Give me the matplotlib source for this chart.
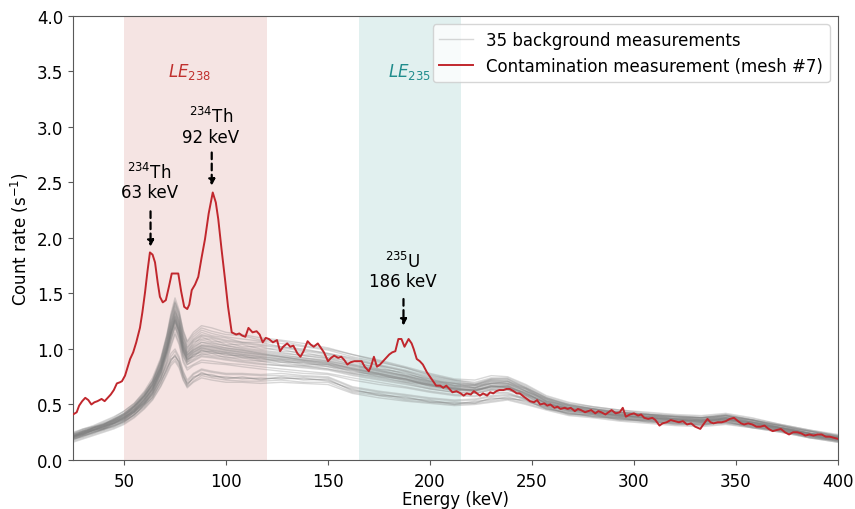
import matplotlib
matplotlib.use("Agg")
import matplotlib.pyplot as plt

# ---------------- data ----------------
bg_energy = [25, 30, 35, 40, 45, 50, 55, 60, 64, 68, 71, 73, 75, 77, 79, 81, 84, 88, 93, 100,
             108, 117, 127, 138, 150, 162, 175, 188, 200, 212, 222, 230, 238, 247, 257, 268, 280,
             293, 307, 320, 333, 345, 358, 372, 386, 400]

bg_upper = [
    [.24,.28,.30,.34,.38,.44,.51,.62,.74,.92,1.13,1.32,1.46,1.35,1.16,1.06,1.13,1.19,1.16,1.13,1.12,1.08,1.07,1.03,1.00,.95,.90,.84,.78,.73,.72,.76,.75,.68,.58,.52,.48,.45,.43,.41,.40,.42,.38,.32,.27,.23],
    [.23,.26,.29,.33,.36,.42,.49,.60,.71,.89,1.10,1.27,1.41,1.30,1.12,1.02,1.09,1.15,1.12,1.10,1.06,1.06,1.02,1.00,.96,.92,.86,.81,.75,.71,.68,.73,.73,.65,.56,.50,.47,.44,.41,.40,.38,.41,.36,.31,.26,.22],
    [.22,.24,.29,.31,.34,.41,.46,.58,.67,.86,1.04,1.23,1.34,1.26,1.07,.99,1.04,1.11,1.07,1.06,1.02,1.02,.98,.97,.92,.89,.82,.79,.71,.69,.65,.71,.69,.64,.53,.49,.44,.43,.39,.39,.36,.40,.34,.31,.24,.21],
    [.21,.24,.27,.30,.33,.38,.45,.55,.65,.82,1.01,1.17,1.30,1.20,1.04,.94,1.01,1.06,1.04,1.01,.99,.97,.95,.92,.89,.85,.80,.75,.69,.65,.63,.67,.67,.60,.52,.46,.43,.40,.38,.37,.35,.37,.34,.29,.24,.20],
    [.25,.28,.31,.35,.39,.44,.51,.61,.71,.88,1.08,1.25,1.38,1.27,1.10,1.00,1.07,1.12,1.10,1.07,1.05,1.03,1.01,.98,.95,.90,.85,.80,.73,.69,.67,.72,.71,.64,.55,.49,.46,.43,.41,.39,.38,.40,.36,.31,.26,.21],
    [.19,.22,.25,.28,.32,.36,.43,.53,.64,.82,1.03,1.19,1.32,1.23,1.06,.96,1.03,1.08,1.06,1.03,1.01,.99,.97,.94,.91,.86,.81,.76,.71,.67,.65,.69,.68,.62,.53,.47,.44,.41,.39,.37,.36,.38,.34,.29,.24,.20],
    [.23,.27,.30,.32,.37,.42,.50,.60,.72,.90,1.11,1.29,1.43,1.32,1.14,1.04,1.11,1.17,1.14,1.11,1.09,1.07,1.05,1.02,.99,.93,.88,.83,.76,.72,.70,.74,.74,.67,.57,.51,.48,.45,.42,.40,.39,.41,.37,.32,.27,.22],
    [.20,.23,.27,.29,.33,.38,.44,.54,.64,.80,.99,1.15,1.27,1.18,1.02,.92,.99,1.03,1.02,.99,.97,.95,.93,.90,.87,.83,.78,.73,.68,.64,.62,.66,.66,.59,.51,.45,.42,.40,.38,.36,.35,.37,.33,.28,.24,.20],
    [.21,.26,.27,.32,.35,.39,.48,.56,.69,.84,1.06,1.21,1.36,1.24,1.09,.97,1.06,1.09,1.09,1.04,1.04,1.00,1.00,.95,.94,.87,.84,.77,.73,.67,.67,.69,.71,.62,.55,.47,.46,.41,.41,.37,.38,.38,.36,.29,.26,.21],
    [.22,.25,.28,.31,.35,.40,.48,.59,.71,.90,1.12,1.30,1.42,1.33,1.17,1.07,1.15,1.21,1.19,1.15,1.13,1.10,1.08,1.05,1.01,.95,.89,.83,.77,.72,.69,.73,.73,.66,.56,.50,.46,.43,.41,.39,.38,.40,.36,.31,.26,.21],
    [.23,.26,.29,.32,.36,.41,.48,.58,.68,.83,1.00,1.14,1.26,1.16,1.00,.91,.97,1.01,.99,.97,.95,.93,.91,.89,.86,.82,.77,.73,.68,.64,.62,.66,.65,.59,.51,.46,.43,.40,.38,.36,.35,.37,.33,.29,.24,.20],
    [.22,.25,.29,.32,.36,.41,.48,.58,.70,.87,1.08,1.25,1.39,1.29,1.11,1.01,1.08,1.13,1.11,1.08,1.06,1.04,1.02,.99,.96,.91,.85,.80,.74,.70,.68,.72,.72,.65,.56,.49,.46,.43,.41,.39,.38,.40,.36,.31,.26,.22],
]

bg_middle = [
    [.21,.24,.27,.30,.34,.38,.45,.54,.64,.80,.98,1.13,1.25,1.15,.98,.90,.94,.98,.97,.95,.93,.91,.89,.87,.85,.80,.76,.72,.67,.64,.63,.66,.66,.60,.51,.46,.43,.40,.38,.36,.35,.37,.33,.28,.23,.19],
    [.22,.25,.29,.31,.36,.40,.47,.57,.67,.84,1.03,1.19,1.31,1.21,1.03,.95,.99,1.03,1.02,1.00,.98,.96,.93,.91,.89,.84,.80,.76,.70,.67,.66,.69,.69,.63,.54,.48,.45,.42,.40,.38,.37,.39,.35,.29,.24,.20],
    [.20,.23,.26,.28,.32,.36,.43,.51,.61,.76,.93,1.07,1.19,1.09,.93,.86,.89,.93,.92,.90,.88,.86,.85,.83,.81,.76,.72,.68,.64,.61,.60,.63,.63,.57,.48,.44,.41,.38,.36,.34,.33,.35,.31,.27,.22,.18],
    [.20,.25,.26,.31,.33,.39,.44,.55,.63,.81,.97,1.14,1.24,1.16,.97,.91,.93,.99,.96,.96,.92,.92,.88,.88,.84,.81,.75,.73,.66,.65,.62,.67,.65,.61,.50,.47,.42,.41,.37,.37,.34,.38,.32,.29,.22,.19],
    [.23,.26,.29,.32,.37,.41,.49,.58,.69,.86,1.06,1.22,1.35,1.24,1.06,.97,1.02,1.06,1.05,1.03,1.00,.98,.96,.94,.92,.86,.82,.78,.72,.69,.68,.71,.71,.65,.55,.50,.46,.43,.41,.39,.38,.40,.36,.30,.25,.21],
    [.19,.22,.25,.28,.31,.35,.41,.50,.59,.74,.90,1.04,1.15,1.06,.90,.83,.86,.90,.89,.87,.86,.84,.82,.80,.78,.74,.70,.66,.62,.59,.58,.61,.61,.55,.47,.42,.40,.37,.35,.33,.32,.34,.30,.26,.21,.17],
    [.21,.25,.28,.30,.35,.39,.46,.55,.66,.82,1.00,1.15,1.28,1.17,1.00,.92,.96,1.00,.99,.97,.95,.93,.91,.89,.87,.82,.78,.73,.68,.65,.64,.67,.67,.61,.52,.47,.44,.41,.39,.37,.36,.38,.34,.29,.23,.19],
    [.22,.23,.27,.29,.34,.37,.45,.52,.63,.78,.97,1.10,1.23,1.12,.97,.88,.93,.95,.96,.92,.92,.89,.88,.85,.84,.78,.75,.70,.67,.62,.63,.64,.65,.58,.50,.45,.42,.39,.37,.35,.34,.36,.32,.28,.22,.19],
    [.24,.27,.30,.33,.37,.42,.49,.58,.68,.83,.99,1.14,1.26,1.16,.99,.90,.95,.99,.98,.96,.94,.92,.90,.88,.86,.81,.77,.72,.67,.64,.63,.66,.66,.60,.51,.46,.43,.40,.38,.36,.35,.37,.33,.28,.23,.19],
    [.18,.21,.24,.27,.30,.34,.41,.50,.61,.79,.99,1.16,1.29,1.19,1.02,.94,.98,1.02,1.01,.99,.97,.95,.93,.90,.88,.83,.79,.75,.70,.66,.65,.69,.69,.62,.53,.48,.45,.42,.40,.37,.36,.38,.34,.29,.24,.20],
    [.21,.24,.28,.30,.35,.38,.46,.54,.65,.79,.99,1.12,1.26,1.14,.99,.89,.95,.97,.98,.94,.94,.90,.90,.86,.86,.79,.77,.71,.68,.63,.64,.65,.67,.59,.52,.45,.44,.39,.39,.35,.36,.36,.34,.27,.24,.19],
    [.20,.23,.26,.29,.33,.36,.43,.52,.61,.77,.94,1.08,1.20,1.10,.94,.86,.90,.94,.93,.91,.89,.87,.85,.84,.82,.77,.73,.69,.64,.61,.60,.63,.63,.58,.49,.44,.41,.38,.36,.35,.34,.36,.32,.27,.22,.18],
    [.22,.26,.29,.32,.36,.40,.48,.57,.68,.85,1.04,1.20,1.33,1.22,1.04,.95,1.00,1.04,1.03,1.01,.99,.96,.94,.92,.90,.85,.81,.76,.71,.68,.67,.70,.70,.64,.54,.49,.46,.42,.40,.38,.37,.39,.35,.30,.24,.20],
    [.21,.24,.27,.30,.33,.37,.43,.51,.59,.73,.88,1.02,1.13,1.04,.88,.81,.85,.88,.87,.86,.84,.82,.80,.78,.77,.72,.68,.65,.61,.58,.57,.60,.60,.54,.46,.42,.39,.37,.35,.33,.32,.34,.30,.26,.21,.17],
    [.21,.25,.28,.31,.35,.39,.46,.56,.66,.82,1.01,1.16,1.29,1.18,1.01,.93,.97,1.01,1.00,.98,.96,.94,.92,.90,.88,.82,.78,.74,.69,.66,.65,.68,.68,.62,.53,.47,.44,.41,.39,.37,.36,.38,.34,.29,.24,.20],
    [.20,.23,.27,.28,.33,.37,.44,.53,.62,.78,.95,1.10,1.21,1.12,.95,.88,.91,.96,.94,.93,.90,.89,.86,.85,.82,.78,.74,.70,.65,.63,.61,.64,.64,.58,.49,.45,.42,.39,.37,.35,.34,.36,.32,.27,.22,.18],
]

bg_lower = [
    [.19,.22,.25,.28,.31,.35,.41,.49,.57,.70,.82,.90,.94,.88,.76,.68,.74,.78,.76,.74,.74,.73,.74,.73,.72,.63,.59,.56,.53,.51,.52,.55,.56,.53,.47,.42,.40,.37,.35,.33,.32,.34,.30,.26,.21,.17],
    [.17,.20,.23,.26,.29,.33,.39,.47,.55,.67,.79,.87,.91,.85,.73,.66,.71,.76,.74,.72,.71,.71,.72,.70,.70,.61,.58,.54,.52,.50,.51,.53,.55,.51,.46,.41,.39,.36,.34,.32,.31,.33,.29,.25,.20,.16],
    [.20,.23,.27,.29,.33,.37,.43,.51,.59,.73,.85,.93,.98,.91,.79,.70,.77,.81,.79,.77,.77,.76,.76,.75,.74,.65,.61,.58,.55,.53,.54,.57,.58,.55,.48,.43,.41,.38,.36,.34,.33,.35,.31,.27,.22,.18],
    [.18,.22,.24,.28,.30,.35,.40,.50,.56,.71,.81,.91,.93,.89,.75,.69,.73,.79,.75,.75,.73,.74,.73,.74,.71,.64,.58,.57,.52,.52,.51,.56,.55,.54,.46,.43,.39,.38,.34,.34,.31,.35,.29,.27,.20,.18],
    [.16,.19,.22,.25,.28,.32,.38,.46,.54,.66,.77,.85,.89,.83,.72,.65,.70,.74,.72,.70,.70,.69,.70,.69,.68,.60,.56,.53,.51,.49,.50,.52,.54,.50,.45,.40,.38,.35,.33,.31,.30,.32,.29,.25,.20,.16],
    [.21,.24,.27,.30,.34,.38,.44,.52,.60,.74,.87,.96,1.00,.93,.80,.72,.78,.82,.80,.78,.78,.77,.78,.76,.75,.66,.62,.59,.56,.54,.55,.58,.59,.56,.49,.44,.42,.39,.37,.35,.34,.36,.32,.28,.23,.19],
    [.19,.21,.25,.27,.31,.34,.41,.48,.57,.69,.83,.89,.95,.87,.77,.67,.75,.77,.77,.73,.75,.72,.75,.72,.73,.62,.60,.55,.54,.50,.53,.54,.57,.52,.48,.41,.41,.36,.36,.32,.33,.33,.31,.26,.22,.17],
]

cont_energy = [25, 26.8, 28, 29.5, 31, 32.5, 34, 35.5, 37, 39, 40.5, 42, 43.5, 45, 46.5, 48, 49, 50.5,
               52, 53, 54.5, 56, 57.8, 59, 60.3, 61.5, 62.7, 64, 65.2, 66.5, 67.6, 69, 70.5, 72,
               73.4, 75, 76.6, 78, 79.5, 81, 82, 83.2, 84.8, 86.4, 88, 89.7, 91.5, 93.5, 95, 96.2,
               97.8, 99.5, 101, 102.8, 105, 106.5, 108, 109.5, 111, 113, 115, 116.5, 118, 119.5,
               121, 123, 125, 126.5, 128, 130, 131.5, 133, 135, 136.5, 138, 140, 141.5, 143, 145,
               146.5, 148, 150, 151.5, 153, 155, 156.5, 158, 159.5, 161, 163, 165, 166.5, 168, 170,
               171, 172.5, 174, 175.5, 177, 178.5, 180, 181.5, 183, 184.5, 186, 187.5, 189.5, 191,
               192, 193.5, 195, 196.5, 198.5, 200, 201.5, 203, 205, 206.5, 208, 210, 211, 213, 215,
               216.5, 218, 220, 221.5, 223, 224.5, 226, 228, 229.5, 231, 232.5, 234, 236, 237.5,
               239, 241, 242.5, 244, 246, 247.5, 249, 251, 252.5, 254, 256, 257.5, 259, 261, 262.5,
               264, 266, 267.5, 269, 271, 272.5, 274, 276, 277.5, 279, 281, 282.5, 284, 286, 287.5,
               289, 291, 293, 294.5, 296, 298, 300, 302, 303.5, 305, 307, 309, 310.5, 312.5, 314,
               316, 318, 320, 322, 324, 326, 328, 330, 332.5, 334, 336, 337.5, 339, 341, 343, 345,
               347, 349, 351, 352.5, 354, 356, 358, 360, 362, 364, 366, 368, 370, 372, 374, 376,
               378, 380, 382, 384, 386, 388, 390, 392, 394, 396, 398, 400]
cont_rate = [0.41, 0.43, 0.49, 0.53, 0.56, 0.54, 0.50, 0.52, 0.53, 0.55, 0.53, 0.56, 0.59, 0.63, 0.69, 0.70, 0.71, 0.76,
             0.85, 0.91, 0.97, 1.06, 1.19, 1.33, 1.51, 1.70, 1.87, 1.85, 1.78, 1.60, 1.47, 1.42, 1.44, 1.56,
             1.68, 1.68, 1.68, 1.52, 1.38, 1.36, 1.40, 1.53, 1.58, 1.65, 1.82, 1.99, 2.22, 2.41, 2.32, 2.17,
             1.90, 1.63, 1.38, 1.15, 1.13, 1.14, 1.12, 1.11, 1.19, 1.15, 1.16, 1.13, 1.06, 1.10,
             1.09, 1.06, 1.08, 0.98, 1.02, 1.05, 1.02, 1.03, 0.96, 0.93, 0.98, 1.07, 1.04, 1.02, 1.05,
             1.01, 0.97, 0.89, 0.92, 0.94, 0.92, 0.93, 0.90, 0.86, 0.88, 0.89, 0.89, 0.89, 0.84, 0.80,
             0.84, 0.93, 0.84, 0.86, 0.89, 0.92, 0.95, 0.97, 0.98, 1.09, 1.09, 1.02, 1.09, 1.05,
             1.00, 0.91, 0.89, 0.86, 0.79, 0.75, 0.71, 0.67, 0.67, 0.65, 0.67, 0.63, 0.61, 0.62, 0.60,
             0.58, 0.60, 0.59, 0.62, 0.60, 0.58, 0.60, 0.58, 0.61, 0.60, 0.62, 0.63, 0.63, 0.64,
             0.64, 0.62, 0.60, 0.60, 0.57, 0.55, 0.53, 0.52, 0.54, 0.50, 0.51, 0.49, 0.50, 0.47, 0.48,
             0.46, 0.47, 0.46, 0.47, 0.44, 0.46, 0.45, 0.43, 0.44, 0.45, 0.42, 0.44, 0.43, 0.41, 0.43,
             0.45, 0.42, 0.43, 0.47, 0.39, 0.41, 0.42, 0.40, 0.41, 0.38, 0.37, 0.38, 0.36, 0.31, 0.33,
             0.34, 0.36, 0.35, 0.34, 0.35, 0.32, 0.33, 0.30, 0.28, 0.32, 0.37, 0.34, 0.33, 0.34, 0.34, 0.35,
             0.37, 0.38, 0.35, 0.33, 0.32, 0.33, 0.32, 0.30, 0.30, 0.31, 0.28, 0.26, 0.27, 0.28, 0.25, 0.23,
             0.25, 0.25, 0.24, 0.22, 0.23, 0.22, 0.23, 0.23, 0.21, 0.21, 0.20, 0.19]

regions = [("$LE_{238}$", 50, 120), ("$LE_{235}$", 165, 215)]
peaks = [("$^{234}$Th\n63 keV", 63), ("$^{234}$Th\n92 keV", 93), ("$^{235}$U\n186 keV", 187)]

# ---------------- plot ----------------
plt.rcParams['font.family'] = ['DejaVu Sans']
fig = plt.figure(figsize=(8.55, 5.10), dpi=100)
ax = fig.add_axes([0.0854, 0.0961, 0.8947, 0.8706])

ax.axvspan(regions[0][1], regions[0][2], color='#f5e4e3', zorder=0, lw=0)
ax.axvspan(regions[1][1], regions[1][2], color='#e1f0ef', zorder=0, lw=0)
ax.text(82, 3.5, regions[0][0], color='#c0302e', fontsize=12, ha='center', va='center')
ax.text(190, 3.5, regions[1][0], color='#1f8c8c', fontsize=12, ha='center', va='center')

all_bg = bg_upper + bg_middle + bg_lower
for i, row in enumerate(all_bg):
    ax.plot(bg_energy, row, color='gray', alpha=0.3, lw=1.0,
            label='35 background measurements' if i == 0 else None, zorder=2)

ax.plot(cont_energy, cont_rate, color='#c1272d', lw=1.4,
        label='Contamination measurement (mesh #7)', zorder=3)

# annotations
label_y = [2.33, 2.83, 1.53]
arrow_from = [2.24, 2.77, 1.45]
arrow_to = [1.92, 2.47, 1.21]
for (txt, e), ly, a0, a1 in zip(peaks, label_y, arrow_from, arrow_to):
    ax.text(e - 0.5, ly, txt, ha='center', va='bottom', fontsize=12, linespacing=1.1)
    ax.annotate('', xy=(e, a1), xytext=(e, a0),
                arrowprops=dict(arrowstyle='-|>', linestyle=(0, (3, 2)), lw=1.6,
                                color='black', mutation_scale=9, shrinkA=0, shrinkB=0))

ax.set_xlim(25, 400)
ax.set_ylim(0, 4.0)
ax.set_xticks([50, 100, 150, 200, 250, 300, 350, 400])
ax.set_yticks([0, 0.5, 1.0, 1.5, 2.0, 2.5, 3.0, 3.5, 4.0])
ax.set_yticklabels(['0.0', '0.5', '1.0', '1.5', '2.0', '2.5', '3.0', '3.5', '4.0'])
ax.tick_params(labelsize=12, color='0.35', length=3.5)
ax.tick_params(axis='x', pad=5)
for s in ax.spines.values():
    s.set_color('0.35')
ax.set_xlabel('Energy (keV)', fontsize=12, labelpad=0)
ax.set_ylabel('Count rate (s$^{-1}$)', fontsize=12)

ax.legend(loc='upper right', fontsize=12, frameon=True, borderaxespad=0.5)

fig.savefig('out.png', dpi=100)
